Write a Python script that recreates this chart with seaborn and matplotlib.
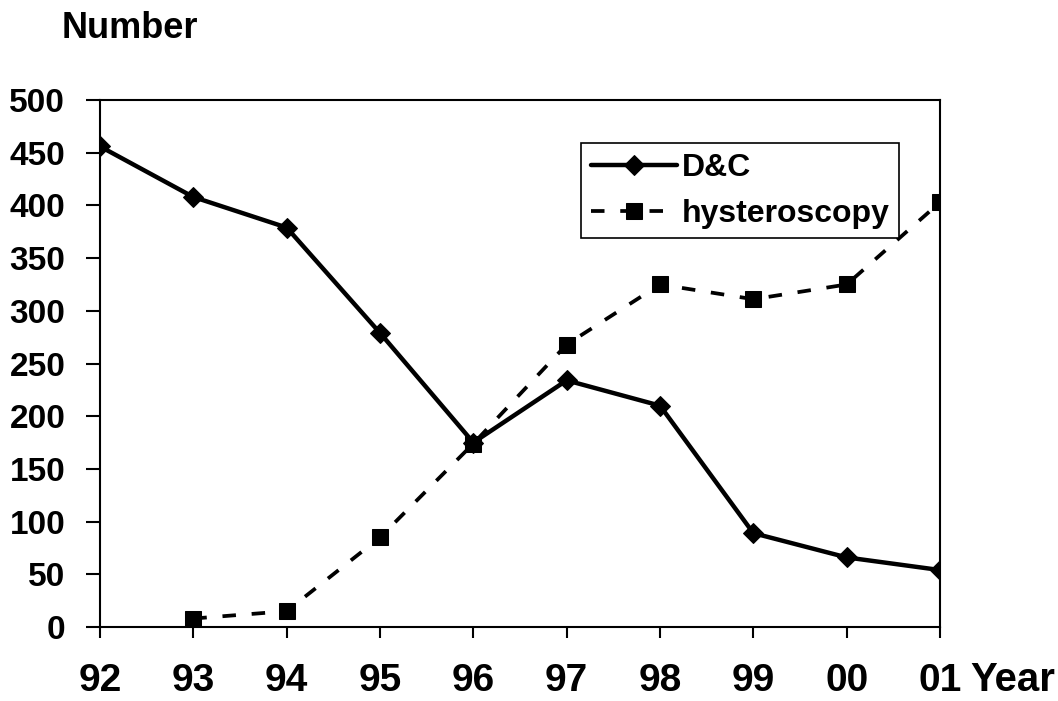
import matplotlib
matplotlib.use("Agg")
import matplotlib.pyplot as plt
import seaborn as sns
import pandas as pd

years = ["92", "93", "94", "95", "96", "97", "98", "99", "00", "01"]
dc_values = [456, 408, 379, 279, 175, 234, 210, 89, 66, 54]
hyst_years = ["93", "94", "95", "96", "97", "98", "99", "00", "01"]
hyst_values = [8, 15, 85, 174, 268, 325, 311, 325, 403]
y_ticks = [0, 50, 100, 150, 200, 250, 300, 350, 400, 450, 500]

sns.set_style("ticks")
plt.rcParams['font.family'] = ['Liberation Sans', 'DejaVu Sans']
plt.rcParams['font.weight'] = 'bold'
for k in ['text.color', 'xtick.color', 'ytick.color', 'axes.labelcolor', 'axes.edgecolor']:
    plt.rcParams[k] = 'black'

pos = {y: i for i, y in enumerate(years)}
df_dc = pd.DataFrame({"x": [pos[y] for y in years], "v": dc_values})
df_h = pd.DataFrame({"x": [pos[y] for y in hyst_years], "v": hyst_values})

fig = plt.figure(figsize=(10.58, 7.01), dpi=100)
ax = fig.add_axes([0.0945, 0.1056, 0.794, 0.7517])

sns.lineplot(data=df_dc, x="x", y="v", ax=ax, color="black", lw=3.2,
             marker="D", markersize=10, markeredgecolor="black", label="D&C")
sns.lineplot(data=df_h, x="x", y="v", ax=ax, color="black", lw=2.7,
             linestyle=(0, (3.6, 4.2)), marker="s", markersize=11,
             markeredgecolor="black", label="hysteroscopy")

ax.set_xlim(0, len(years) - 1)
ax.set_ylim(0, 500)
ax.set_xticks(range(len(years)))
ax.set_xticklabels(years, fontsize=28, fontweight='bold')
ax.set_yticks(y_ticks)
ax.set_yticklabels([str(v) for v in y_ticks], fontsize=24, fontweight='bold')
ax.tick_params(axis='x', direction='out', length=8, width=1.5, pad=18, colors='black')
ax.tick_params(axis='y', direction='out', length=10, width=1.5, pad=15, colors='black')
for s in ax.spines.values():
    s.set_visible(True)
    s.set_linewidth(1.5)
    s.set_color('black')
ax.set_xlabel("")
ax.set_ylabel("")

fig.text(62 / 1058, 1 - 29 / 701, "Number", fontsize=26, fontweight='bold', va='center', ha='left')
fig.text(970 / 1058, 1 - 680 / 701, "Year", fontsize=29, fontweight='bold',
         va='center', ha='left')

leg = ax.legend(loc='upper left', bbox_to_anchor=(0.5726, 0.918), fontsize=23,
                frameon=True, fancybox=False, shadow=False, handlelength=2.7,
                borderpad=0.3, labelspacing=0.5, handletextpad=0.15, borderaxespad=0)
leg.get_frame().set_edgecolor('black')
leg.get_frame().set_linewidth(1.2)
leg.get_frame().set_alpha(1)
for t in leg.get_texts():
    t.set_fontweight('bold')
    t.set_color('black')

fig.savefig("out.png", dpi=100)
